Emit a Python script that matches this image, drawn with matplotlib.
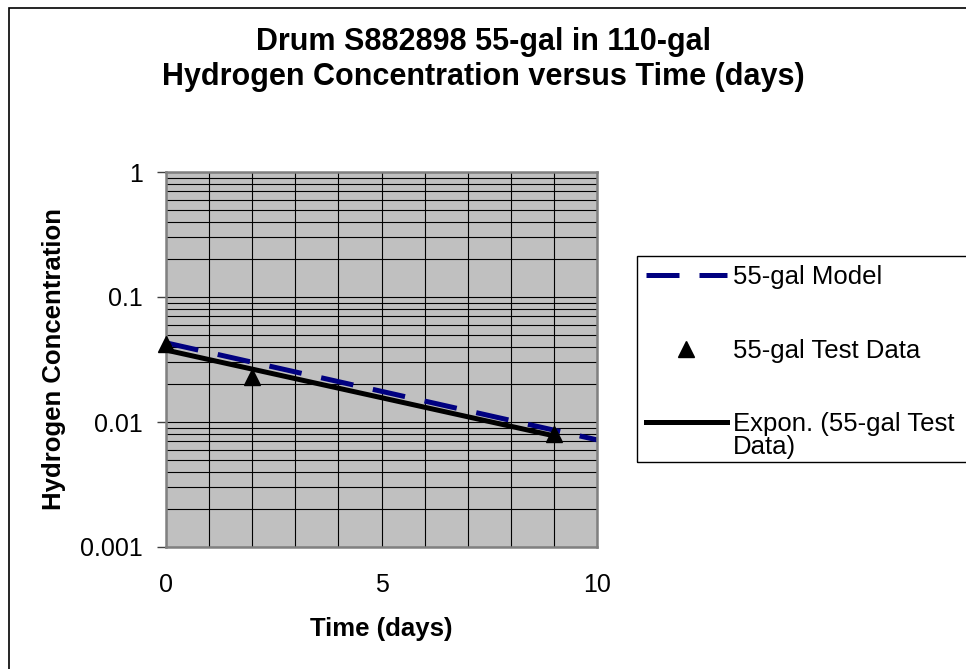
import matplotlib
matplotlib.use("Agg")
import matplotlib.pyplot as plt
import numpy as np
from matplotlib.patches import Rectangle
from matplotlib.ticker import LogLocator, MultipleLocator, FixedLocator, NullFormatter, FuncFormatter

plt.rcParams['font.family'] = ['Liberation Sans', 'DejaVu Sans']

# data
test_days = [0, 2, 9]
test_conc = [0.042, 0.023, 0.008]
model_days = [0, 10]
model_conc = [0.043, 0.0072]

# exponential trendline through the test data (Excel "Expon." fit)
slope, icpt = np.polyfit(test_days, np.log(test_conc), 1)
fit_days = np.array([0, 9])
fit_conc = np.exp(icpt + slope * fit_days)

W, H = 966, 669
FS = 18.5
fig = plt.figure(figsize=(W / 100, H / 100), dpi=100)
ax = fig.add_axes([166 / W, 1 - 547 / H, (597 - 166) / W, (547 - 172) / H])
ax.set_facecolor('#C0C0C0')

ax.set_yscale('log')
ax.set_xlim(0, 10)
ax.set_ylim(0.001, 1)

ax.xaxis.set_major_locator(FixedLocator([0, 5, 10]))
ax.xaxis.set_minor_locator(MultipleLocator(1))
ax.yaxis.set_major_locator(LogLocator(base=10, numticks=10))
ax.yaxis.set_minor_locator(LogLocator(base=10, subs=np.arange(2, 10), numticks=20))
ax.yaxis.set_major_formatter(FuncFormatter(lambda v, p: f'{v:g}'))
ax.yaxis.set_minor_formatter(NullFormatter())

ax.grid(True, which='both', axis='both', color='black', linewidth=0.8)
ax.set_axisbelow(True)

for s in ax.spines.values():
    s.set_color('#808080')
    s.set_linewidth(1.8)

ax.tick_params(axis='x', which='both', length=0, pad=19, labelsize=18)
ax.tick_params(axis='y', which='major', length=6.5, width=1, color='#404040', pad=10, labelsize=18)
ax.tick_params(axis='y', which='minor', length=0)

model_line, = ax.plot(model_days, model_conc, color='#000080', linewidth=3.6, label='55-gal Model')
model_line.set_dashes([6.6, 4.0])
model_line.set_dash_capstyle('butt')
fit_line, = ax.plot(fit_days, fit_conc, color='black', linewidth=3.6, label='Expon. (55-gal Test')
pts, = ax.plot(test_days, test_conc, linestyle='none', marker='^', markersize=11,
               color='black', label='55-gal Test Data', clip_on=False, zorder=5)

ax.set_xlabel('Time (days)', fontsize=FS, fontweight='bold')
ax.set_ylabel('Hydrogen Concentration', fontsize=FS, fontweight='bold')
ax.xaxis.set_label_coords(0.5, (547 - 617) / 375)
ax.yaxis.set_label_coords((66 - 166) / 431, 0.5)

fig.text(483 / W, 1 - 42 / H, 'Drum S882898 55-gal in 110-gal', ha='center', va='center',
         fontsize=22, fontweight='bold')
fig.text(483 / W, 1 - 77 / H, 'Hydrogen Concentration versus Time (days)', ha='center', va='center',
         fontsize=22, fontweight='bold')

# chart outer frame (cropped at right and bottom in the original)
fig.add_artist(Rectangle((9 / W, -1), 2, 1 - 8 / H + 1, transform=fig.transFigure,
                         fill=False, edgecolor='black', linewidth=1.2))
# legend frame
fig.add_artist(Rectangle((637 / W, 1 - 462 / H), 1, (462 - 256) / H, transform=fig.transFigure,
                         fill=False, edgecolor='black', linewidth=1.0))

leg = fig.legend(handles=[model_line, pts, fit_line], loc='upper left',
                 bbox_to_anchor=(646 / W, 1 - 265 / H), frameon=False, fontsize=FS,
                 handlelength=3.15, handletextpad=0.23, labelspacing=1.93, borderpad=0,
                 borderaxespad=0)
# second line of the trendline label sits under the first, as Excel wraps it
fig.text(733 / W, 1 - 447 / H, 'Data)', ha='left', va='center', fontsize=FS)

fig.savefig('out.png', dpi=100)
